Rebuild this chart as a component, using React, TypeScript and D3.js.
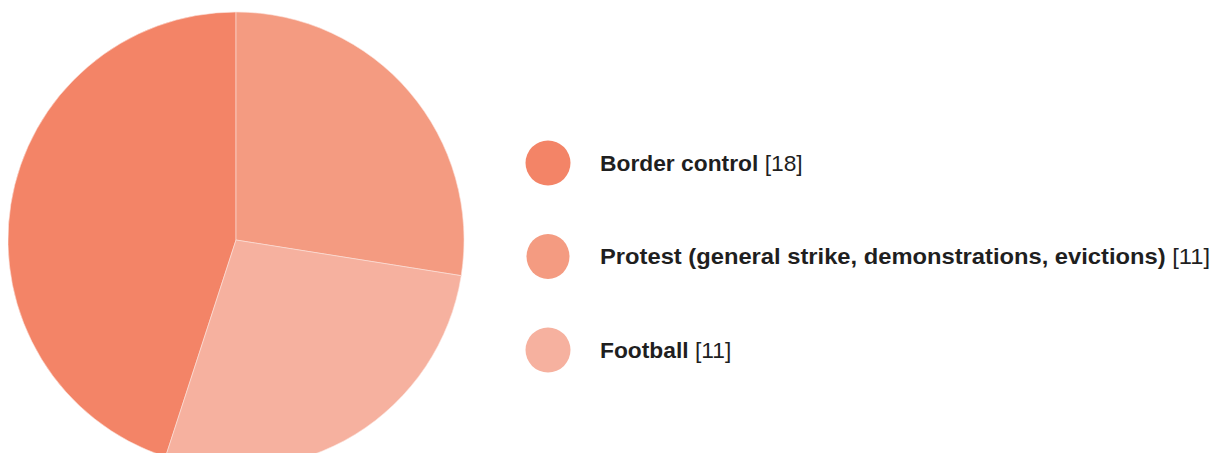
import React, { useRef, useEffect } from "react";
import * as d3 from "d3";

const width = 1219;
const height = 461;

const categories = ["Border control", "Protest (general strike, demonstrations, evictions)", "Football"];
const values = [18, 11, 11];
const colors = ["#f38467", "#f49b81", "#f6b19f"];

export default function App() {
  const ref = useRef<SVGSVGElement | null>(null);

  useEffect(() => {
    const svg = d3.select(ref.current);
    svg.selectAll("*").remove();

    const data = categories.map((c, i) => ({ category: c, value: values[i], color: colors[i] }));
    const total = d3.sum(values);
    // start so that the first slice ends at the top (12 o'clock)
    const start = 2 * Math.PI * (total - values[0]) / total;

    const pie = d3
      .pie<any>()
      .sort(null)
      .value((d) => d.value)
      .startAngle(start)
      .endAngle(start + 2 * Math.PI);

    const arc = d3.arc<any>().innerRadius(0).outerRadius(228);

    svg
      .append("g")
      .attr("transform", "translate(236,240)")
      .selectAll("path")
      .data(pie(data))
      .enter()
      .append("path")
      .attr("d", arc)
      .attr("fill", (d) => d.data.color)
      .attr("stroke", "#fbe3dc")
      .attr("stroke-width", 0.6);

    // Legend
    const legendY = d3.scalePoint<string>().domain(categories).range([163, 350]);
    const rows = svg
      .append("g")
      .selectAll("g.row")
      .data(data)
      .enter()
      .append("g")
      .attr("class", "row")
      .attr("transform", (d) => `translate(0,${legendY(d.category)})`);

    rows
      .append("ellipse")
      .attr("cx", 548)
      .attr("cy", 0)
      .attr("rx", (d, i) => (i === 1 ? 21.5 : 22.5))
      .attr("ry", 22.5)
      .attr("fill", (d) => d.color);

    const text = rows
      .append("text")
      .attr("x", 600)
      .attr("y", 7.5)
      .attr("font-family", "'Liberation Sans', Arial, sans-serif")
      .attr("font-size", 22.8)
      .attr("fill", "#1f1f1f")
      .attr("textLength", (d, i) => (i === 1 ? 610 : null))
      .attr("lengthAdjust", "spacingAndGlyphs");

    text.append("tspan").attr("font-weight", 700).text((d) => d.category);
    text.append("tspan").attr("font-weight", 400).text((d) => ` [${d.value}]`);
  }, []);

  return (
    <div style={{ margin: -8 }}>
      <svg ref={ref} width={width} height={height} style={{ display: "block" }} />
    </div>
  );
}
